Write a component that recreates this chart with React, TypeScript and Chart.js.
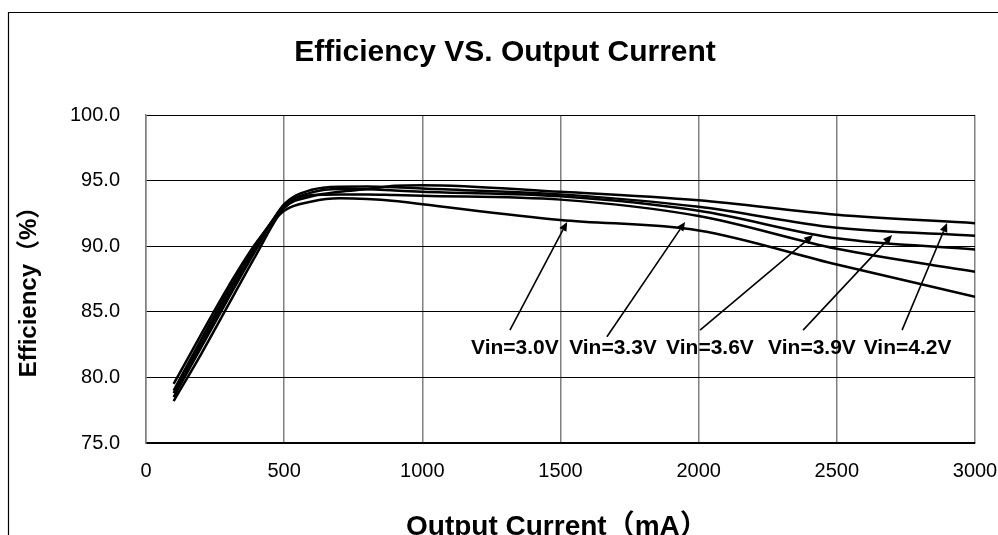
import React, { useEffect, useRef } from "react";
import { Chart, registerables } from "chart.js";

Chart.register(...registerables);

const currents = [100, 200, 300, 400, 500, 600, 700, 800, 900, 1000, 1500, 2000, 2500, 3000];
const vin30 = [79.5, 83.3, 87.0, 90.3, 92.7, 93.4, 93.65, 93.6, 93.45, 93.2, 92.0, 91.2, 88.6, 86.15];
const vin33 = [79.0, 82.9, 86.7, 90.2, 93.0, 93.9, 93.95, 93.95, 93.9, 93.85, 93.55, 92.3, 89.8, 88.05];
const vin36 = [78.8, 82.6, 86.4, 90.0, 93.1, 94.1, 94.36, 94.35, 94.25, 94.15, 93.8, 92.7, 90.6, 89.75];
const vin39 = [78.5, 82.3, 86.1, 89.8, 93.2, 94.3, 94.54, 94.55, 94.5, 94.4, 93.95, 93.0, 91.4, 90.8];
const vin42 = [78.2, 81.8, 85.6, 89.4, 92.9, 93.8, 94.15, 94.35, 94.6, 94.65, 94.15, 93.5, 92.4, 91.75];

const seriesNames = ["Vin=3.0V", "Vin=3.3V", "Vin=3.6V", "Vin=3.9V", "Vin=4.2V"];
const seriesValues = [vin30, vin33, vin36, vin39, vin42];

// callout annotations (data coordinates)
const labelX = [1335, 1690, 2041, 2410, 2756];
const labelY = 82.24;
const tailX = [1317, 1668, 2005, 2378, 2736];
const tailY = [83.6, 83.1, 83.6, 83.6, 83.6];
const tipX = [1524, 1951, 2414, 2700, 2899];
const tipY = [91.85, 91.85, 90.85, 90.85, 91.77];

const titleText = "Efficiency VS. Output Current";
const xTitle = "Output Current（mA）";
const yTitle = "Efficiency（%）";

const FONT = "'Liberation Sans', Arial, 'Noto Sans CJK SC', sans-serif";

export default function App() {
  const ref = useRef<HTMLCanvasElement>(null);
  useEffect(() => {
    document.body.style.margin = "0";
    const canvas = ref.current!;
    const decor = {
      id: "decor",
      beforeDraw(chart: any) {
        const ctx = chart.ctx;
        ctx.save();
        ctx.fillStyle = "#fff";
        ctx.fillRect(0, 0, chart.width, chart.height);
        ctx.strokeStyle = "#000";
        ctx.lineWidth = 1.2;
        ctx.beginPath();
        ctx.moveTo(8.5, chart.height);
        ctx.lineTo(8.5, 12.5);
        ctx.lineTo(chart.width, 12.5);
        ctx.stroke();
        ctx.restore();
      },
      afterDraw(chart: any) {
        const ctx = chart.ctx;
        const xs = chart.scales.x;
        const ys = chart.scales.y;
        ctx.save();
        ctx.fillStyle = "#000";
        ctx.textAlign = "center";
        ctx.textBaseline = "middle";
        ctx.font = `bold 30px ${FONT}`;
        ctx.fillText(titleText, 505, 53);
        ctx.font = `bold 28px ${FONT}`;
        ctx.textAlign = "left";
        ctx.fillText(xTitle, 406, 527);
        ctx.textAlign = "center";
        ctx.font = `bold 24px ${FONT}`;
        ctx.save();
        ctx.translate(29, 286);
        ctx.rotate(-Math.PI / 2);
        ctx.fillText(yTitle, 0, 0);
        ctx.restore();
        // callouts
        ctx.font = `bold 21px ${FONT}`;
        ctx.strokeStyle = "#000";
        ctx.lineWidth = 1.6;
        for (let i = 0; i < seriesNames.length; i++) {
          const lx = xs.getPixelForValue(labelX[i]);
          const ly = ys.getPixelForValue(labelY);
          ctx.fillText(seriesNames[i], lx, ly);
          const x0 = xs.getPixelForValue(tailX[i]);
          const y0 = ys.getPixelForValue(tailY[i]);
          const x1 = xs.getPixelForValue(tipX[i]);
          const y1 = ys.getPixelForValue(tipY[i]);
          const ang = Math.atan2(y1 - y0, x1 - x0);
          const hl = 9;
          const hw = 4;
          const bx = x1 - hl * Math.cos(ang);
          const by = y1 - hl * Math.sin(ang);
          ctx.beginPath();
          ctx.moveTo(x0, y0);
          ctx.lineTo(bx, by);
          ctx.stroke();
          ctx.beginPath();
          ctx.moveTo(x1, y1);
          ctx.lineTo(bx + hw * Math.sin(ang), by - hw * Math.cos(ang));
          ctx.lineTo(bx - hw * Math.sin(ang), by + hw * Math.cos(ang));
          ctx.closePath();
          ctx.fill();
        }
        ctx.restore();
      },
    };
    const chart = new Chart(canvas, {
      type: "line",
      data: {
        labels: currents,
        datasets: seriesValues.map((vals, i) => ({
          label: seriesNames[i],
          data: vals.map((v, j) => ({ x: currents[j], y: v })),
          borderColor: "#000",
          borderWidth: 2.5,
          pointRadius: 0,
          fill: false,
          cubicInterpolationMode: "monotone" as const,
        })),
      },
      options: {
        responsive: false,
        animation: false,
        layout: { padding: { left: 0, top: 115, right: 23, bottom: 0 } },
        plugins: {
          legend: { display: false },
          title: { display: false },
          tooltip: { enabled: false },
        },
        scales: {
          x: {
            type: "linear",
            min: 0,
            max: 3000,
            afterFit(scale: any) {
              scale.height = 92;
              scale.paddingRight = 0;
              scale.paddingLeft = 0;
            },
            ticks: {
              stepSize: 500,
              color: "#000",
              padding: 16,
              maxRotation: 0,
              font: { family: FONT, size: 20 },
              callback: (v: any) => String(v),
            },
            grid: { color: "#808080", lineWidth: 1.5, drawTicks: false },
            border: { color: "#000", width: 1.5 },
          },
          y: {
            min: 75,
            max: 100,
            afterFit(scale: any) {
              scale.width = 146;
              scale.paddingTop = 0;
              scale.paddingBottom = 0;
            },
            ticks: {
              stepSize: 5,
              color: "#000",
              padding: 26,
              font: { family: FONT, size: 20 },
              callback: (v: any) => Number(v).toFixed(1),
            },
            grid: { color: "#000", lineWidth: 1, drawTicks: false },
            border: { color: "#808080", width: 1.5 },
          },
        },
      },
      plugins: [decor],
    });
    return () => chart.destroy();
  }, []);
  return (
    <div style={{ width: 998, height: 535 }}>
      <canvas ref={ref} width={998} height={535} style={{ display: "block" }} />
    </div>
  );
}
